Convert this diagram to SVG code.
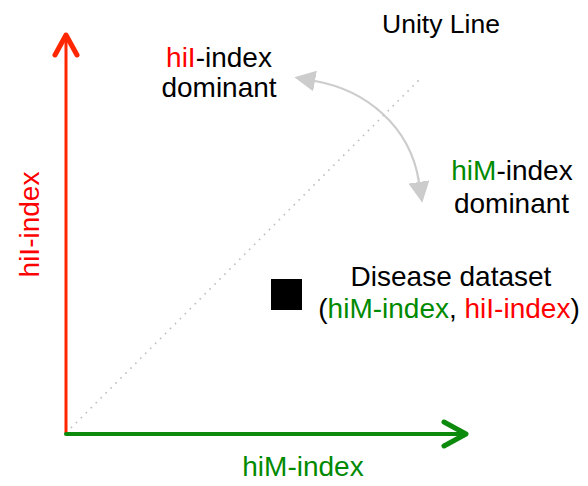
<svg xmlns="http://www.w3.org/2000/svg" width="588" height="486" viewBox="0 0 588 486">
  <style>
    text { font-family: "Liberation Sans", Arial, Helvetica, sans-serif; font-size: 28px; fill: #000; }
    .mid { text-anchor: middle; }
    .red { fill: #ff0000; }
    .green { fill: #008a00; }
    .axis-y { stroke: #ff2600; fill: none; stroke-linecap: round; stroke-linejoin: round; }
    .axis-x { stroke: #0b8a0b; fill: none; stroke-linecap: round; stroke-linejoin: round; }
    .unity { stroke: #bdbdbd; stroke-width: 1.6; stroke-dasharray: 1.6 5.4; fill: none; }
    .swing { stroke: #cccccc; stroke-width: 2.2; fill: none; }
  </style>
  <defs>
    <marker id="grey-head" viewBox="0 0 20 20" refX="0" refY="10" markerWidth="21" markerHeight="21" markerUnits="userSpaceOnUse" orient="auto-start-reverse">
      <path d="M0,0 L20,10 L0,20 z" fill="#cccccc"/>
    </marker>
  </defs>

  <rect width="588" height="486" fill="#ffffff"/>

  <!-- diagonal where both indices are equal -->
  <g id="unity-line">
    <line class="unity" x1="66" y1="433" x2="421" y2="78"/>
    <text x="441" y="33" class="mid" style="font-size:26.5px">Unity Line</text>
  </g>

  <!-- vertical axis -->
  <g id="y-axis">
    <line class="axis-y" x1="66" y1="433" x2="66" y2="37" stroke-width="3"/>
    <polyline class="axis-y" points="55,55 66,35 77,55" stroke-width="5"/>
    <text class="red mid" transform="translate(39,224.5) rotate(-90)">hiI-index</text>
  </g>

  <!-- horizontal axis -->
  <g id="x-axis">
    <line class="axis-x" x1="66" y1="434" x2="464" y2="434" stroke-width="4"/>
    <polyline class="axis-x" points="444,422 466,434 444,446" stroke-width="5"/>
    <text x="303" y="476" class="green mid">hiM-index</text>
  </g>

  <g id="hiI-dominant">
    <text x="219" y="67" class="mid"><tspan class="red">hiI</tspan>-index</text>
    <text x="219" y="97" class="mid">dominant</text>
  </g>

  <g id="hiM-dominant">
    <text x="512" y="180" class="mid"><tspan class="green">hiM</tspan>-index</text>
    <text x="511.5" y="213" class="mid">dominant</text>
  </g>

  <g id="disease-dataset">
    <rect x="271" y="279" width="31" height="31" fill="#000000"/>
    <text x="451" y="286" class="mid">Disease dataset</text>
    <text x="449" y="318" class="mid">(<tspan class="green">hiM-index</tspan>, <tspan class="red">hiI-index</tspan>)</text>
  </g>

  <g id="connectors">
    <path class="swing" d="M315,81 C365,90 410,125 419,182" marker-start="url(#grey-head)" marker-end="url(#grey-head)"/>
  </g>
</svg>
